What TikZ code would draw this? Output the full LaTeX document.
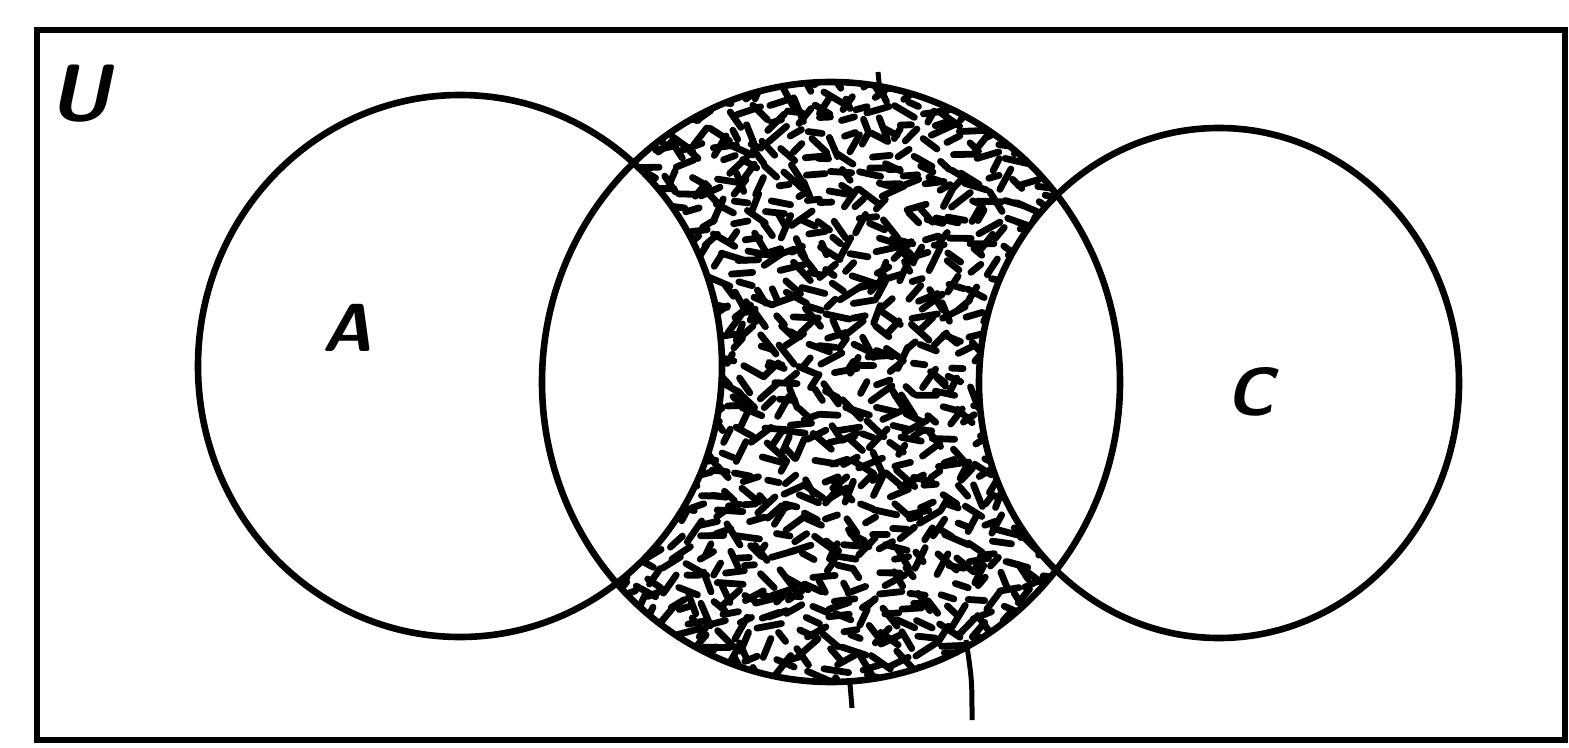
\documentclass[tikz,border=0pt]{standalone}
\usepackage{amsmath,amssymb}
\usetikzlibrary{arrows.meta}
\tikzset{
  setline/.style={line width=3.3pt},
  setlabel/.style={font=\fontsize{34}{34}\selectfont\sffamily\bfseries\itshape},
  speck/.style={line width=3.4pt, line cap=round},
}
\begin{document}
\begin{tikzpicture}[x=0.5pt, y=-0.5pt]
	\useasboundingbox (0,0) rectangle (1569,748);
	\coordinate (uNW) at (37,30);
	\coordinate (uSE) at (1565,740);
	\coordinate (cA) at (460,366);
	\coordinate (cB) at (831,382);
	\coordinate (cC) at (1219,383);
	% shading of B, then A and C cut out
	\begin{scope}
		\clip (cB) ellipse (289 and 300);
		\pgfmathsetseed{11}
		\foreach \x in {536,552,...,1130} {
			\foreach \y in {76,92,...,690} {
				\pgfmathsetmacro{\ang}{70*rand}
				\pgfmathsetmacro{\len}{10+16*rnd}
				\pgfmathsetmacro{\dx}{8*rand}
				\pgfmathsetmacro{\dy}{8*rand}
				\draw[speck] (\x+\dx,\y+\dy) -- ++(\ang:\len);
			}
		}
	\end{scope}
	\fill[white] (cA) ellipse (262 and 271);
	\fill[white] (cC) ellipse (240 and 255);
	\draw[setline] (uNW) rectangle (uSE);
	\draw[setline] (cA) ellipse (262 and 271);
	\draw[setline] (cB) ellipse (289 and 300);
	\draw[setline] (cC) ellipse (240 and 255);
	\draw[line width=2.5pt] (878,72) -- (880,92);
	\draw[line width=2.5pt] (850,684) -- (852,708);
	\draw[line width=2.5pt] (966,640) .. controls (972,680) .. (972,720);
	\node[setlabel, font=\fontsize{40}{40}\selectfont\sffamily\bfseries\itshape] (labU) at (80,94) {U};
	\node[setlabel] (labA) at (347,328) {A};
	\node[setlabel] (labC) at (1250,392) {C};
\end{tikzpicture}
\end{document}
